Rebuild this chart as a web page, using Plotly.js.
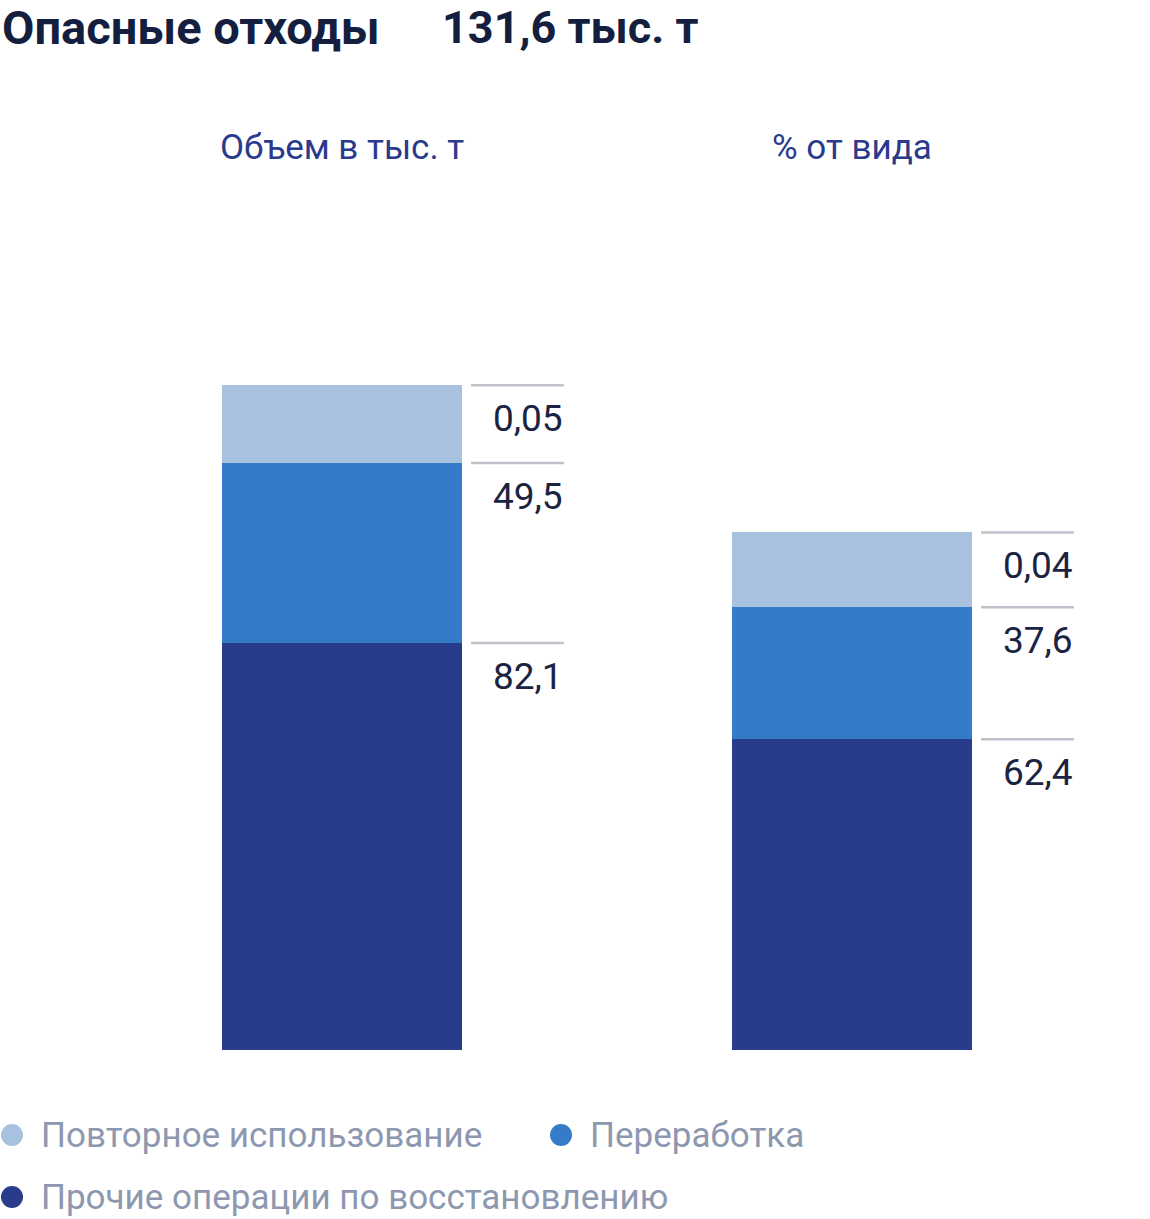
<!DOCTYPE html>
<html>
<head>
<meta charset="utf-8">
<script src="https://cdn.plot.ly/plotly-3.0.1.min.js"></script>
<style>
  html, body { margin: 0; padding: 0; background: #ffffff; }
  #plot { width: 1150px; height: 1219px; }
</style>
</head>
<body>
<div id="plot"></div>
<script>
// two columns: absolute volume and share of the type
var columns = ['Объем в тыс. т', '% от вида'];
var seriesNames = ['Прочие операции по восстановлению', 'Переработка', 'Повторное использование'];

// values printed next to the segments (bottom -> top)
var labelsVolume = ['82,1', '49,5', '0,05'];
var labelsShare = ['62,4', '37,6', '0,04'];

// the source graphic does not draw segments to scale (0,05 is clearly visible),
// so the drawn heights are read off the picture separately (bottom -> top)
var heightVolume = [82.1, 36.3, 15.7];
var heightShare = [62.7, 26.6, 15.1];

var colors = ['#283c8b', '#347cc8', '#a8c1df'];
var totalText = '131,6 тыс. т';

var font = 'Roboto, "Noto Sans", sans-serif';
var W = 1150, PH = 1050;   // figure width, plot area height in px
var xs = [0, 1];
var barWidth = 0.47;

var data = [];
for (var i = 0; i < seriesNames.length; i++) {
  data.push({
    type: 'bar',
    x: xs,
    y: [heightVolume[i], heightShare[i]],
    width: barWidth,
    name: seriesNames[i],
    marker: {color: colors[i], line: {width: 0}},
    showlegend: false,
    hoverinfo: 'skip'
  });
}

var shapes = [];
var annotations = [];

function addLabels(xc, heights, labels) {
  var acc = 0;
  for (var k = 0; k < heights.length; k++) {
    acc += heights[k];
    shapes.push({
      type: 'line', xref: 'x', yref: 'y',
      x0: xc + 0.253, x1: xc + 0.435, y0: acc, y1: acc,
      line: {color: '#c0c0cb', width: 2.5}
    });
    annotations.push({
      xref: 'x', yref: 'y', x: xc + 0.437, y: acc,
      xanchor: 'right', yanchor: 'top', yshift: -10,
      text: labels[k], showarrow: false,
      font: {family: font, size: 37, color: '#1a2442'}
    });
  }
}
addLabels(xs[0], heightVolume, labelsVolume);
addLabels(xs[1], heightShare, labelsShare);

// column headers
columns.forEach(function (c, j) {
  annotations.push({
    xref: 'x', yref: 'paper', x: xs[j], y: 1 - 147 / PH,
    xanchor: 'center', yanchor: 'middle', text: c, showarrow: false,
    font: {family: font, size: 35, color: '#2a3a8c'}
  });
});

// main title
annotations.push({
  xref: 'paper', yref: 'paper', x: 0, y: 1 - 28 / PH,
  xanchor: 'left', yanchor: 'middle', text: '<b>Опасные отходы</b>', showarrow: false,
  font: {family: font, size: 47, color: '#141f3f'}
});
annotations.push({
  xref: 'paper', yref: 'paper', x: 440 / W, y: 1 - 28 / PH,
  xanchor: 'left', yanchor: 'middle', text: '<b>' + totalText + '</b>', showarrow: false,
  font: {family: font, size: 45, color: '#141f3f'}
});

// legend drawn by hand: round markers in two rows, order as in the picture
var legendOrder = [2, 1, 0];
var legendPos = [[12, 1135], [561, 1135], [12, 1197]];
legendOrder.forEach(function (i, n) {
  var px = legendPos[n][0], py = legendPos[n][1];
  shapes.push({
    type: 'circle', xref: 'paper', yref: 'paper',
    xsizemode: 'pixel', ysizemode: 'pixel',
    xanchor: px / W, yanchor: 1 - py / PH,
    x0: -11, x1: 11, y0: -11, y1: 11,
    fillcolor: colors[i], line: {width: 0}
  });
  annotations.push({
    xref: 'paper', yref: 'paper', x: (px + 27) / W, y: 1 - py / PH,
    xanchor: 'left', yanchor: 'middle', text: seriesNames[i], showarrow: false,
    font: {family: font, size: 35, color: '#8d98b0'}
  });
});

var layout = {
  width: W,
  height: 1219,
  margin: {l: 0, r: 0, t: 0, b: 1219 - PH},
  paper_bgcolor: '#ffffff',
  plot_bgcolor: '#ffffff',
  barmode: 'stack',
  showlegend: false,
  xaxis: {
    range: [-342 / 510, 1 + 298 / 510],
    showgrid: false, zeroline: false, showticklabels: false, showline: false, fixedrange: true
  },
  yaxis: {
    range: [0, PH / 4.957],
    showgrid: false, zeroline: false, showticklabels: false, showline: false, fixedrange: true
  },
  shapes: shapes,
  annotations: annotations
};

Plotly.newPlot('plot', data, layout, {displayModeBar: false, staticPlot: true});
</script>
</body>
</html>
